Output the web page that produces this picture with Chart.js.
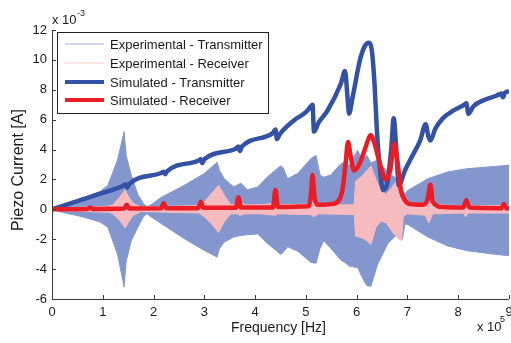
<!DOCTYPE html>
<html>
<head>
<meta charset="utf-8">
<script src="https://cdn.jsdelivr.net/npm/chart.js@4"></script>
<style>
  html, body { margin: 0; padding: 0; background: #fff; }
  #wrap { width: 511px; height: 343px; }
</style>
</head>
<body>
<div id="wrap"><canvas id="myChart" width="511" height="343"></canvas></div>
<script>
// frequency in units of 1e5 Hz, current in units of 1e-3 A
var seriesNames = ["Experimental - Transmitter", "Experimental - Receiver", "Simulated - Transmitter", "Simulated - Receiver"];
var xTicks = [0, 1, 2, 3, 4, 5, 6, 7, 8, 9];
var yTicks = [-6, -4, -2, 0, 2, 4, 6, 8, 10, 12];

// experimental transmitter: envelope of the measured signal
var expTxFreq  = [0, 0.2, 0.6, 0.95, 1.1, 1.29, 1.38, 1.42, 1.46, 1.56, 1.69, 1.8, 1.87, 1.95, 2.15, 2.6, 3.0, 3.2, 3.25, 3.3, 3.39, 3.58, 3.72, 3.85, 4.05, 4.25, 4.5, 4.55, 4.64, 4.84, 5.1, 5.2, 5.28, 5.35, 5.49, 5.69, 5.79, 5.85, 6.02, 6.1, 6.2, 6.28, 6.41, 6.61, 6.8, 6.9, 6.95, 7.0, 7.4, 7.79, 8.18, 8.71, 9.0];
var expTxUpper = [0, 0.3, 0.75, 1.2, 1.6, 3.3, 4.6, 5.2, 3.6, 2.3, 1.0, 0.4, 0.15, 0.3, 0.8, 1.6, 2.4, 3.0, 3.15, 2.6, 2.05, 1.5, 1.75, 1.3, 1.5, 2.2, 2.9, 2.8, 2.05, 2.4, 3.4, 3.6, 2.3, 2.15, 2.3, 3.05, 3.2, 2.9, 3.95, 3.3, 3.6, 3.1, 3.3, 2.5, 2.0, 1.3, 1.0, 1.25, 2.05, 2.5, 2.72, 2.87, 2.95];
var expTxLower = [0, -0.2, -0.5, -0.85, -1.2, -3.0, -4.5, -5.2, -3.5, -2.1, -1.2, -0.5, -0.3, -0.5, -0.95, -1.95, -2.75, -3.1, -3.2, -2.6, -2.2, -1.85, -1.75, -1.7, -1.65, -2.3, -3.0, -2.9, -2.5, -2.8, -3.55, -3.6, -2.6, -2.1, -2.6, -3.4, -3.6, -3.8, -3.9, -4.5, -5.1, -5.15, -3.7, -2.3, -1.65, -2.0, -1.0, -1.0, -1.85, -2.45, -2.77, -3.0, -3.1];

// experimental receiver: envelope
var expRxFreq  = [0, 0.2, 1.1, 1.2, 1.35, 1.44, 1.5, 1.6, 1.75, 2.9, 3.0, 3.15, 3.28, 3.4, 3.52, 3.65, 3.7, 3.8, 4.1, 4.4, 4.45, 5.1, 5.15, 5.25, 5.95, 5.98, 6.1, 6.2, 6.28, 6.38, 6.48, 6.58, 6.7, 6.8, 6.88, 6.92, 7.0, 7.35, 7.42, 7.5, 8.1, 8.15, 8.2, 9.0];
var expRxUpper = [0, 0.1, 0.2, 0.3, 0.9, 1.3, 0.9, 0.4, 0.15, 0.25, 0.5, 1.1, 1.6, 0.9, 0.3, 0.35, 0.5, 0.3, 0.3, 0.4, 0.3, 0.35, 0.5, 0.3, 0.3, 1.9, 2.2, 2.6, 2.9, 2.0, 1.2, 1.0, 1.5, 2.0, 2.0, 0.5, 0.3, 0.4, 0.5, 0.3, 0.25, 0.4, 0.25, 0.25];
var expRxLower = [0, -0.1, -0.2, -0.3, -0.8, -1.25, -0.9, -0.4, -0.15, -0.25, -0.5, -1.0, -1.55, -0.8, -0.3, -0.3, -0.4, -0.3, -0.3, -0.4, -0.3, -0.35, -0.5, -0.3, -0.35, -1.8, -1.9, -2.1, -2.35, -1.2, -0.8, -0.9, -1.5, -1.9, -2.1, -0.5, -0.3, -0.4, -0.9, -0.3, -0.25, -0.5, -0.25, -0.25];

// simulated transmitter
var simTxFreq = [0, 0.5, 1.0, 1.40, 1.45, 1.48, 1.52, 2.15, 2.2, 2.23, 2.26, 2.88, 2.93, 2.96, 3.0, 3.62, 3.67, 3.70, 3.74, 4.35, 4.40, 4.43, 4.48, 4.77, 5.0, 5.10, 5.13, 5.16, 5.25, 5.43, 5.69, 5.77, 5.82, 5.85, 5.92, 6.08, 6.2, 6.25, 6.3, 6.35, 6.4, 6.45, 6.52, 6.6, 6.68, 6.73, 6.78, 6.83, 6.95, 7.1, 7.25, 7.36, 7.41, 7.45, 7.55, 7.7, 7.9, 8.12, 8.16, 8.2, 8.3, 8.5, 8.75, 8.85, 8.88, 8.92, 9.0];
var simTx     = [0, 0.55, 1.1, 1.58, 1.68, 1.45, 1.68, 2.43, 2.52, 2.35, 2.52, 3.25, 3.35, 3.1, 3.35, 4.05, 4.2, 3.9, 4.2, 5.1, 5.35, 4.7, 5.0, 5.96, 6.5, 6.9, 7.0, 5.2, 5.8, 6.63, 8.42, 9.25, 7.5, 6.4, 7.5, 10.2, 11.1, 11.15, 10.6, 8.5, 5.2, 3.0, 1.3, 1.7, 4.0, 6.1, 4.0, 1.6, 2.6, 3.6, 4.6, 5.7, 4.9, 4.6, 5.4, 6.1, 6.6, 7.0, 7.1, 6.4, 6.9, 7.3, 7.6, 7.75, 7.5, 7.8, 7.9];

// simulated receiver
var simRxFreq = [0, 0.7, 0.75, 0.8, 1.42, 1.47, 1.52, 2.15, 2.2, 2.25, 2.88, 2.93, 2.98, 3.62, 3.67, 3.72, 4.35, 4.4, 4.45, 5.05, 5.1, 5.13, 5.17, 5.25, 5.5, 5.65, 5.72, 5.78, 5.83, 5.88, 5.95, 6.05, 6.15, 6.28, 6.36, 6.47, 6.57, 6.66, 6.74, 6.8, 6.87, 6.95, 7.05, 7.3, 7.4, 7.45, 7.5, 7.7, 8.1, 8.16, 8.22, 8.85, 8.9, 8.95, 9.0];
var simRx     = [0, 0.03, 0.12, 0.03, 0.05, 0.3, 0.06, 0.07, 0.4, 0.08, 0.08, 0.5, 0.1, 0.1, 0.8, 0.12, 0.12, 1.3, 0.15, 0.2, 1.0, 2.3, 0.8, 0.3, 0.35, 0.6, 1.3, 3.0, 4.5, 3.6, 2.6, 3.0, 3.9, 4.95, 4.3, 2.9, 2.0, 2.6, 4.4, 3.3, 1.3, 0.6, 0.35, 0.3, 0.7, 1.64, 0.5, 0.15, 0.12, 0.6, 0.12, 0.08, 0.35, 0.08, 0.05];

function pts(xs, ys) {
  return xs.map(function (x, i) { return { x: x, y: ys[i] }; });
}

var colExpTx = "rgb(131,151,206)";
var colExpRx = "rgb(246,187,191)";
var colSimTx = "rgb(52,82,165)";
var colSimRx = "rgb(236,28,36)";
var fontFam = "'Liberation Sans', Arial, sans-serif";

var extrasPlugin = {
  id: "extras",
  afterDatasetsDraw: function (chart) {
    var ctx = chart.ctx, a = chart.chartArea;
    var xs = chart.scales.x, ys = chart.scales.y;
    ctx.save();
    // axes with inward ticks
    ctx.strokeStyle = "#3a3a3a";
    ctx.lineWidth = 1;
    ctx.beginPath();
    ctx.moveTo(a.left + 0.5, a.top);
    ctx.lineTo(a.left + 0.5, a.bottom + 0.5);
    ctx.lineTo(a.right, a.bottom + 0.5);
    ctx.stroke();
    ctx.beginPath();
    xTicks.forEach(function (v) {
      var px = Math.round(xs.getPixelForValue(v)) + 0.5;
      ctx.moveTo(px, a.bottom);
      ctx.lineTo(px, a.bottom - 4);
    });
    yTicks.forEach(function (v) {
      var py = Math.round(ys.getPixelForValue(v)) + 0.5;
      ctx.moveTo(a.left, py);
      ctx.lineTo(a.left + 4, py);
    });
    ctx.stroke();

    // legend
    var lx = 57.5, ly = 32.5, lw = 211, lh = 81;
    ctx.fillStyle = "#fff";
    ctx.fillRect(lx, ly, lw, lh);
    ctx.strokeStyle = "#222";
    ctx.strokeRect(lx, ly, lw, lh);
    var rows = [
      { c: "rgb(160,176,222)", w: 1 },
      { c: "rgb(250,200,204)", w: 1 },
      { c: colSimTx, w: 4 },
      { c: colSimRx, w: 4 }
    ];
    var rowY = [44, 63, 82, 100];
    ctx.font = "13px " + fontFam;
    ctx.textBaseline = "middle";
    ctx.textAlign = "left";
    rows.forEach(function (r, i) {
      ctx.strokeStyle = r.c;
      ctx.lineWidth = r.w;
      ctx.beginPath();
      ctx.moveTo(65, rowY[i]);
      ctx.lineTo(104, rowY[i]);
      ctx.stroke();
      ctx.fillStyle = "#1a1a1a";
      ctx.fillText(seriesNames[i], 110, rowY[i] + 1);
    });

    // exponent labels and axis titles
    ctx.fillStyle = "#1a1a1a";
    ctx.textBaseline = "alphabetic";
    ctx.font = "13px " + fontFam;
    ctx.fillText("x 10", 52, 24);
    ctx.font = "9px " + fontFam;
    ctx.fillText("-3", 77, 16);
    ctx.font = "13px " + fontFam;
    ctx.fillText("x 10", 477, 331);
    ctx.font = "9px " + fontFam;
    ctx.fillText("5", 500, 322);

    ctx.font = "14px " + fontFam;
    ctx.textAlign = "center";
    ctx.textBaseline = "middle";
    ctx.fillText("Frequency [Hz]", (a.left + a.right) / 2 - 2, 328);
    ctx.translate(19, 170);
    ctx.rotate(-Math.PI / 2);
    ctx.font = "16px " + fontFam;
    ctx.fillText("Piezo Current [A]", 0, 0);
    ctx.restore();
  }
};

new Chart(document.getElementById("myChart"), {
  type: "line",
  data: {
    datasets: [
      { label: seriesNames[0], data: pts(expTxFreq, expTxUpper), fill: "+1", backgroundColor: colExpTx, borderColor: colExpTx, borderWidth: 1, pointRadius: 0, tension: 0, order: 4 },
      { label: "exp tx lower", data: pts(expTxFreq, expTxLower), fill: false, borderColor: colExpTx, borderWidth: 1, pointRadius: 0, tension: 0, order: 4 },
      { label: seriesNames[1], data: pts(expRxFreq, expRxUpper), fill: "+1", backgroundColor: colExpRx, borderColor: colExpRx, borderWidth: 1, pointRadius: 0, tension: 0, order: 3 },
      { label: "exp rx lower", data: pts(expRxFreq, expRxLower), fill: false, borderColor: colExpRx, borderWidth: 1, pointRadius: 0, tension: 0, order: 3 },
      { label: seriesNames[2], data: pts(simTxFreq, simTx), fill: false, borderColor: colSimTx, borderWidth: 4.5, pointRadius: 0, cubicInterpolationMode: "monotone", order: 2 },
      { label: seriesNames[3], data: pts(simRxFreq, simRx), fill: false, borderColor: colSimRx, borderWidth: 4.5, pointRadius: 0, cubicInterpolationMode: "monotone", order: 1 }
    ]
  },
  options: {
    responsive: false,
    animation: false,
    layout: { padding: { top: 30, right: 2, left: 0, bottom: 0 } },
    plugins: { legend: { display: false }, tooltip: { enabled: false } },
    scales: {
      x: {
        type: "linear", min: 0, max: 9,
        grid: { display: false, drawTicks: false },
        border: { display: false },
        afterBuildTicks: function (s) { s.ticks = xTicks.map(function (v) { return { value: v }; }); },
        afterFit: function (s) { s.height = 44; s.paddingLeft = 0; s.paddingRight = 0; },
        ticks: { padding: 6, maxRotation: 0, color: "#1a1a1a", font: { family: fontFam, size: 13 } }
      },
      y: {
        min: -6, max: 12,
        grid: { display: false, drawTicks: false },
        border: { display: false },
        afterBuildTicks: function (s) { s.ticks = yTicks.map(function (v) { return { value: v }; }); },
        afterFit: function (s) { s.width = 52; s.paddingTop = 0; s.paddingBottom = 0; },
        ticks: { padding: 5, color: "#1a1a1a", font: { family: fontFam, size: 13 } }
      }
    }
  },
  plugins: [extrasPlugin]
});
</script>
</body>
</html>
